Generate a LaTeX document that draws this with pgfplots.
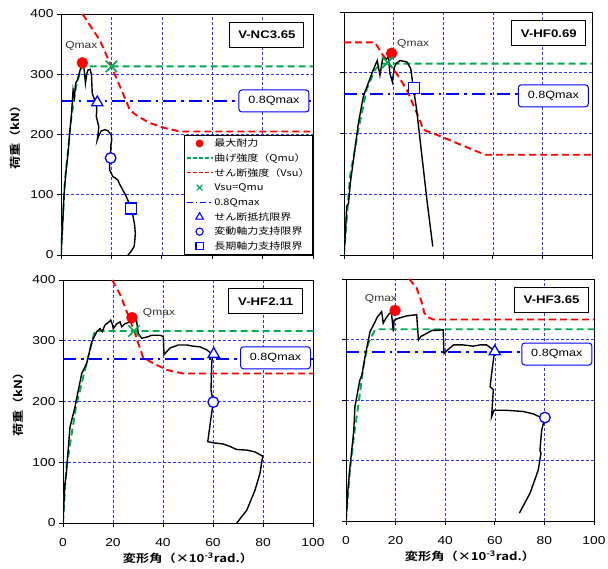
\documentclass[border=0pt]{standalone}
\usepackage{pgfplots}
\pgfplotsset{compat=1.18}
\usepackage{fontspec}
\setmainfont{Liberation Sans}[FakeStretch=1.2]
\newfontfamily\cjk{Noto Sans CJK JP}[FakeStretch=1.2]
\newfontfamily\cjkb{Noto Sans CJK JP Bold}[FakeStretch=1.2]
\definecolor{gr}{RGB}{0,170,80}
\definecolor{rd}{RGB}{255,0,0}
\definecolor{bl}{RGB}{0,0,255}
\definecolor{gridbl}{RGB}{50,50,255}
\tikzset{
  namebox/.style={draw=black, line width=0.9pt, fill=white, inner sep=0pt, minimum width=74pt, minimum height=25pt, font=\bfseries\fontsize{11}{13}\selectfont},
  qbox/.style={draw=bl, line width=1pt, rounded corners=3pt, fill=white, inner sep=0pt, minimum width=70pt, minimum height=22pt, font=\fontsize{10.5}{12}\selectfont},
  qtext/.style={font=\fontsize{10}{12}\selectfont, text=black!80},
}
\pgfplotsset{
  base/.style={
    scale only axis, anchor=south west,
    xmin=0,xmax=100,ymin=0,ymax=400,
    xtick={0,20,40,60,80,100}, ytick={0,100,200,300,400},
    grid=major,
    major grid style={gridbl, line width=0.6pt, dash pattern=on 3pt off 2pt},
    tick align=outside, xtick pos=bottom, ytick pos=left,
    major tick length=4pt,
    tick style={black, line width=0.7pt},
    axis line style={black, line width=0.9pt},
    /pgf/number format/assume math mode=true,
    tick label style={font=\fontsize{11.5}{13}\selectfont},
    xticklabel style={yshift=-8pt},
    every axis y label/.style={at={(axis description cs:-0.18,0.5)},anchor=center,rotate=90,font=\cjkb\fontsize{11}{13}\selectfont},
    every axis x label/.style={at={(axis description cs:0.5,-0.145)},anchor=center,font=\cjkb\fontsize{11}{13}\selectfont},
  },
  curve/.style={black, line width=1.4pt, no marks},
  qmu/.style={gr, line width=1.9pt, dash pattern=on 7pt off 4pt, no marks},
  vsu/.style={rd, line width=1.9pt, dash pattern=on 7pt off 4pt, no marks},
  qline/.style={bl, line width=2.1pt, dash pattern=on 13pt off 5pt on 2.5pt off 5pt, no marks},
  qmax/.style={only marks, mark=*, mark size=5.5pt, rd, mark options={fill=rd, draw=rd}},
  xmk/.style={only marks, mark=x, mark size=8pt, gr, mark options={draw=gr, line width=1.7pt}},
  tri/.style={only marks, mark=triangle*, mark size=6.5pt, bl, mark options={fill=white, draw=bl, line width=1.3pt}},
  circ/.style={only marks, mark=*, mark size=5.3pt, bl, mark options={fill=white, draw=bl, line width=1.3pt}},
  sq/.style={only marks, mark=square*, mark size=5.5pt, bl, mark options={fill=white, draw=bl, line width=1.3pt}},
}
\begin{document}
\begin{tikzpicture}
\useasboundingbox (0,0) rectangle (608pt,569pt);
% ---------------- Panel 1: V-NC3.65
\begin{axis}[base, at={(61pt,314pt)}, width=252pt, height=241pt, xticklabels={,,,,,},
  ylabel={荷重（kN）},
  legend style={at={(rel axis cs:1,0)}, anchor=south east, draw=black, line width=0.8pt, fill=white,
    font=\cjk\fontsize{9.2}{11}\selectfont, inner xsep=2pt, inner ysep=2pt, row sep=2.2pt,
    nodes={inner sep=1pt, text height=8.5pt, text depth=2pt}},
  legend cell align=left,
  legend image code/.code={\draw[mark repeat=2,mark phase=2,#1] plot coordinates {(0pt,0pt)(13pt,0pt)(26pt,0pt)};}]
\addlegendimage{only marks, mark=*, mark size=3.5pt, draw=rd, fill=rd, mark options={draw=rd, fill=rd}}\addlegendentry{最大耐力}
\addlegendimage{draw=gr, line width=1.3pt, dash pattern=on 4pt off 2pt}\addlegendentry{曲げ強度（Qmu）}
\addlegendimage{draw=rd, line width=1.3pt, dash pattern=on 4pt off 2pt}\addlegendentry{せん断強度（Vsu）}
\addlegendimage{only marks, mark=x, mark size=4pt, draw=gr, mark options={draw=gr, line width=1.2pt}}\addlegendentry{Vsu=Qmu}
\addlegendimage{draw=bl, line width=1.3pt, dash pattern=on 6pt off 3pt on 1.5pt off 3pt}\addlegendentry{0.8Qmax}
\addlegendimage{only marks, mark=triangle*, mark size=4.3pt, mark options={fill=white, draw=bl, line width=1.1pt}}\addlegendentry{せん断抵抗限界}
\addlegendimage{only marks, mark=*, mark size=3.6pt, mark options={fill=white, draw=bl, line width=1.1pt}}\addlegendentry{変動軸力支持限界}
\addlegendimage{only marks, mark=square*, mark size=3.6pt, mark options={fill=white, draw=bl, line width=1.1pt}}\addlegendentry{長期軸力支持限界}
\addplot[qline, forget plot] coordinates {(0,255) (100,255)};
\addplot[vsu, forget plot] coordinates {(8.6,400) (12,378) (15.5,356) (20,313) (24,274) (27.4,240) (30.6,230) (35.3,219) (41,211) (47.2,205) (100,205)};
\addplot[qmu, forget plot] coordinates {(0,0) (1.5,120) (4,225) (6,280) (8.2,313) (100,313)};
\addplot[curve, forget plot] coordinates {(0,0) (0.5,40) (1.2,100) (2,140) (2.8,169) (3.5,205) (4.1,230) (4.5,255) (4.8,274) (5.3,262) (5.8,285) (6.5,290) (7.4,304) (7.8,310) (8.5,319) (9.0,314) (9.4,300) (9.7,285) (10.2,300) (10.7,307) (11.6,308) (12.1,298) (12.4,268) (13.4,257) (14.0,252) (14.2,240) (14.0,230) (15,213) (14.7,200) (14.4,191) (15.2,200) (16,206) (17.5,208) (18.7,206) (20,199) (20.1,190) (19.8,182) (19.7,170) (19.7,161) (19.3,150) (19.3,141) (20.6,130) (21.5,128) (22.6,124) (23.2,118) (23.9,113) (24.6,107) (25.3,102) (25.9,97) (26.8,88) (27.9,77) (28.6,64) (29.2,50) (29.5,36) (29.2,20) (29,14) (27.8,6) (26.6,0)};
\addplot[qmax, forget plot] coordinates {(8.5,319)};
\addplot[xmk, forget plot] coordinates {(20,313)};
\addplot[tri, forget plot] coordinates {(14.4,253)};
\addplot[circ, forget plot] coordinates {(19.7,161)};
\addplot[sq, forget plot] coordinates {(27.9,77)};
\node[qtext] at (axis cs:8.1,347) {Qmax};
\node[namebox] at (axis cs:81.7,366) {V-NC3.65};
\node[qbox] at (axis cs:84.5,255.6) {0.8Qmax};
\end{axis}
% ---------------- Panel 2: V-HF0.69
\begin{axis}[base, at={(344pt,314pt)}, width=248pt, height=243pt, xticklabels={,,,,,}, yticklabels={,,,,}]
\addplot[qline] coordinates {(0,265) (100,265)};
\addplot[vsu] coordinates {(0,350) (12.5,350) (15.2,332) (17.6,318) (21.2,299) (25.3,272) (30.6,222) (32,206) (37.4,198) (45,185) (56.9,165) (100,165)};
\addplot[qmu] coordinates {(0,0) (2.4,129) (5.8,206) (9.1,272) (12.5,305) (15,315) (100,315)};
\addplot[curve] coordinates {(0,0) (0.6,40) (1.1,80) (1.8,85) (2.6,120) (3.8,156) (5.8,217) (7.8,261) (9.8,283) (11.8,305) (13.4,320) (14.5,296) (15.6,324) (17,322) (17.9,326) (18.5,299) (19.5,285) (20.3,309) (21,315) (22.6,320) (25.3,318) (26.9,307) (27.9,277) (29.3,239) (31.3,167) (33.6,85) (35.8,14)};
\addplot[qmax] coordinates {(19.2,332)};
\addplot[xmk] coordinates {(17.6,317)};
\addplot[sq] coordinates {(28.2,275)};
\node[qtext] at (axis cs:27.9,348) {Qmax};
\node[namebox] at (axis cs:82.6,365) {V-HF0.69};
\node[qbox] at (axis cs:84.4,262) {0.8Qmax};
\end{axis}
% ---------------- Panel 3: V-HF2.11
\begin{axis}[base, at={(63pt,46pt)}, width=250pt, height=243pt,
  ylabel={荷重（kN）}, xlabel={変形角（×10\textsuperscript{-3}rad.）}]
\addplot[qline] coordinates {(0,270) (100,270)};
\addplot[vsu] coordinates {(19.7,400) (23,375) (25.5,348) (28.4,317) (30.1,296) (32.1,272) (36.1,263) (41.5,252) (48.1,246) (100,246)};
\addplot[qmu] coordinates {(0,0) (1.3,90) (5.3,194) (9.3,260) (12.7,316) (100,316)};
\addplot[curve] coordinates {(0,0) (0.7,62) (1.3,80) (2,117) (2.8,158) (3.3,166) (4.8,191) (5.3,202) (7.5,246) (9.5,263) (11.5,298) (13.5,315) (14.8,320) (15.7,315) (16.8,326) (18.1,330) (19.1,334) (19.9,325) (20.1,320) (21.5,328) (22.8,331) (23.5,323) (24.8,328) (26.8,331) (27.7,336) (29.4,334) (30.1,312) (31.5,304) (33.5,306) (35.5,309) (38.8,309) (40.1,307) (40.4,277) (42.8,288) (46.1,293) (49.5,293) (52.1,291) (54.8,290) (57.5,285) (59.1,280) (59.9,279) (59.5,263) (59.2,219) (60.1,199) (59.1,170) (57.9,134) (60.1,132) (64.1,130) (66.8,126) (69.5,121) (73.5,120) (76.8,117) (79.9,110) (79.5,100) (78.8,82) (76.8,54) (73.5,21) (69.5,0)};
\addplot[qmax] coordinates {(27.6,338)};
\addplot[xmk] coordinates {(28.4,316)};
\addplot[tri] coordinates {(60.3,278)};
\addplot[circ] coordinates {(60.1,199)};
\node[qtext] at (axis cs:38.4,346) {Qmax};
\node[namebox] at (axis cs:81.1,365) {V-HF2.11};
\node[qbox] at (axis cs:85,272) {0.8Qmax};
\end{axis}
% ---------------- Panel 4: V-HF3.65
\begin{axis}[base, at={(346pt,48pt)}, width=248pt, height=242pt, yticklabels={,,,,},
  xlabel={変形角（×10\textsuperscript{-3}rad.）}]
\addplot[qline] coordinates {(0,279) (100,279)};
\addplot[vsu] coordinates {(25.5,400) (28.5,385) (30.5,362) (31.5,345) (32.5,338) (35.2,333) (100,333)};
\addplot[qmu] coordinates {(0,0) (1.5,80) (3.5,150) (5,192) (7,255) (9,294) (11.7,316) (13,317) (100,317)};
\addplot[curve] coordinates {(0,0) (0.7,48) (1.7,93) (3.1,148) (3.6,189) (5.6,233) (6.4,241) (7.7,272) (9.7,313) (11.7,329) (12.6,337) (14.4,346) (15,327) (16.1,335) (17.5,343) (18.3,345) (19.1,313) (19.4,332) (21.1,335) (24.4,339) (26.5,340) (28.5,341) (29.2,299) (30.2,305) (32.5,310) (34.6,315) (36.6,315) (39.2,316) (39.5,277) (41.1,283) (43.3,291) (47.3,291) (51.3,289) (54,291) (56.7,291) (58.7,285) (60,280) (59.4,266) (58.1,222) (59.4,217) (58.7,172) (59.7,183) (64.5,183) (71.5,181) (75.5,177) (78.2,172) (80.2,171) (78.9,150) (78.2,117) (78.6,112) (77.5,84) (74.2,46) (69.9,13)};
\addplot[qmax] coordinates {(19.8,348)};
\addplot[tri] coordinates {(60,280)};
\addplot[circ] coordinates {(80.2,171)};
\node[qtext] at (axis cs:14.1,367) {Qmax};
\node[namebox] at (axis cs:82.9,366) {V-HF3.65};
\node[qbox] at (axis cs:85,276) {0.8Qmax};
\end{axis}
\end{tikzpicture}
\end{document}
